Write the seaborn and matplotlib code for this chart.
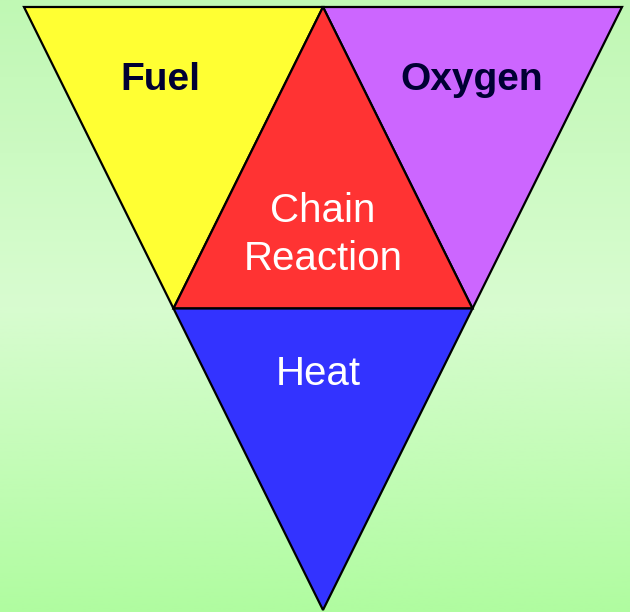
import numpy as np
import matplotlib.pyplot as plt
import seaborn as sns
from matplotlib.colors import LinearSegmentedColormap

# fire tetrahedron diagram data
labels = ['Fuel', 'Oxygen', 'Chain\nReaction', 'Heat']
face_colors = ['#ffff33', '#cc66ff', '#ff3333', '#3333ff']
text_colors = ['#000033', '#000033', '#ffffff', '#ffffff']
text_weights = ['bold', 'bold', 'normal', 'normal']
text_sizes = [28, 28, 29, 29]

# outer inverted triangle corners (pixel space: top-left, top-right, bottom apex)
top_left = np.array([24, 7])
top_right = np.array([622, 7])
apex = np.array([323, 610])

sns.set_style('white')
plt.rcParams['font.family'] = ['Liberation Sans', 'DejaVu Sans']

fig = plt.figure(figsize=(6.3, 6.12), dpi=100)
ax = fig.add_axes([0, 0, 1, 1])
ax.set_xlim(0, 630)
ax.set_ylim(612, 0)
ax.axis('off')

# green gradient background
bg = LinearSegmentedColormap.from_list(
    'bg', [(0, '#c0f8b4'), (0.5, '#d8fcd0'), (1, '#b0fca0')])
grad = np.linspace(0, 1, 256).reshape(-1, 1)
ax.imshow(grad, cmap=bg, extent=[0, 630, 612, 0], aspect='auto', zorder=0)

# subdivide into four triangles via edge midpoints
top_mid = (top_left + top_right) / 2
left_mid = (top_left + apex) / 2
right_mid = (top_right + apex) / 2
pieces = [
    [top_left, top_mid, left_mid],
    [top_mid, top_right, right_mid],
    [top_mid, right_mid, left_mid],
    [left_mid, right_mid, apex],
]

for tri, fc in zip(pieces, face_colors):
    tri = np.array(tri)
    ax.fill(tri[:, 0], tri[:, 1], color=fc, ec='black', lw=1.6, zorder=1)

# label positions
label_pos = [(160, 80), (472, 80), (323, 235), (318, 374)]
for lab, (x, y), tc, w, fs in zip(labels, label_pos, text_colors,
                                  text_weights, text_sizes):
    ax.text(x, y, lab, ha='center', va='center', color=tc, fontsize=fs,
            fontweight=w, linespacing=1.35, zorder=2)

plt.savefig('out.png', dpi=100)
